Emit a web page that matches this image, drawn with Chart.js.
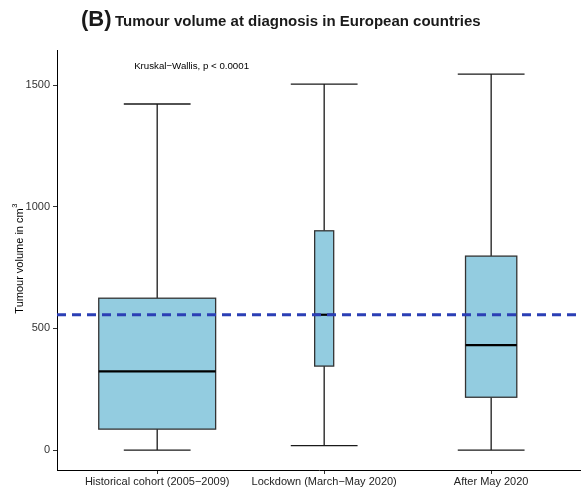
<!DOCTYPE html>
<html>
<head>
<meta charset="utf-8">
<script src="https://cdn.jsdelivr.net/npm/chart.js@4"></script>
<style>
  html, body { margin: 0; padding: 0; background: #fff; }
  #wrap { width: 581px; height: 489px; }
</style>
</head>
<body>
<div id="wrap"><canvas id="myChart" width="581" height="489"></canvas></div>
<script>
// datos
const categorias = ["Historical cohort (2005\u22122009)", "Lockdown (March\u2212May 2020)", "After May 2020"];
const minimos = [0, 18, 0];
const q1 = [86, 345, 217];
const medianas = [323, 556, 431];
const q3 = [624, 901, 797];
const maximos = [1422, 1504, 1545];
const lineaRef = 556; // linea discontinua
const yTicks = [0, 500, 1000, 1500];
const anchoCaja = [0.70, 0.114, 0.307]; // ancho variable (varwidth)
const anchoBigote = 0.4;

const FONT = "'Liberation Sans', Arial, sans-serif";

// plugin para dibujar las cajas usando las escalas
const boxPlugin = {
  id: "boxes",
  afterDatasetsDraw(chart) {
    const ctx = chart.ctx;
    const x = chart.scales.x;
    const y = chart.scales.y;
    ctx.save();
    categorias.forEach((c, i) => {
      const pos = i + 1;
      const xc = x.getPixelForValue(pos);
      const xl = x.getPixelForValue(pos - anchoCaja[i] / 2);
      const xr = x.getPixelForValue(pos + anchoCaja[i] / 2);
      const cl = x.getPixelForValue(pos - anchoBigote / 2);
      const cr = x.getPixelForValue(pos + anchoBigote / 2);
      const yMin = y.getPixelForValue(minimos[i]);
      const yQ1 = y.getPixelForValue(q1[i]);
      const yMed = y.getPixelForValue(medianas[i]);
      const yQ3 = y.getPixelForValue(q3[i]);
      const yMax = y.getPixelForValue(maximos[i]);

      ctx.strokeStyle = "#1a1a1a";
      ctx.lineWidth = 1.3;
      // bigotes
      ctx.beginPath();
      ctx.moveTo(xc, yQ3); ctx.lineTo(xc, yMax);
      ctx.moveTo(cl, yMax); ctx.lineTo(cr, yMax);
      ctx.moveTo(xc, yQ1); ctx.lineTo(xc, yMin);
      ctx.moveTo(cl, yMin); ctx.lineTo(cr, yMin);
      ctx.stroke();
      // caja
      ctx.fillStyle = "#93cce0";
      ctx.fillRect(xl, yQ3, xr - xl, yQ1 - yQ3);
      ctx.strokeStyle = "#333333";
      ctx.strokeRect(xl, yQ3, xr - xl, yQ1 - yQ3);
      // mediana
      ctx.strokeStyle = "#000";
      ctx.lineWidth = 2.2;
      ctx.beginPath();
      ctx.moveTo(xl, yMed); ctx.lineTo(xr, yMed);
      ctx.stroke();
    });

    // linea de referencia
    ctx.strokeStyle = "#2b3fb5";
    ctx.lineWidth = 3;
    ctx.setLineDash([9, 6]);
    ctx.beginPath();
    const yr = y.getPixelForValue(lineaRef);
    ctx.moveTo(x.left, yr);
    ctx.lineTo(chart.width, yr);
    ctx.stroke();
    ctx.setLineDash([]);

    // texto del test
    ctx.fillStyle = "#000";
    ctx.font = "9.7px " + FONT;
    ctx.textAlign = "left";
    ctx.textBaseline = "middle";
    ctx.fillText("Kruskal\u2212Wallis, p < 0.0001", x.getPixelForValue(0.862), y.getPixelForValue(1575));
    ctx.restore();
  },
  afterDraw(chart) {
    const ctx = chart.ctx;
    ctx.save();
    // titulo
    ctx.fillStyle = "#1a1a1a";
    ctx.textBaseline = "alphabetic";
    ctx.textAlign = "left";
    ctx.font = "bold 22px " + FONT;
    ctx.fillText("(B)", 81, 26);
    ctx.font = "bold 15px " + FONT;
    ctx.fillText("Tumour volume at diagnosis in European countries", 115, 26);

    // titulo eje y
    ctx.translate(20, 258);
    ctx.rotate(-Math.PI / 2);
    ctx.textAlign = "center";
    ctx.textBaseline = "middle";
    ctx.fillStyle = "#000";
    ctx.font = "11px " + FONT;
    const t = "Tumour volume in cm";
    const w = ctx.measureText(t).width;
    ctx.fillText(t, -3, 0);
    ctx.font = "7.5px " + FONT;
    ctx.textAlign = "left";
    ctx.fillText("3", -3 + w / 2 + 0.5, -5);
    ctx.restore();
  }
};

const ctx = document.getElementById("myChart").getContext("2d");

const chartInstance = new Chart(ctx, {
  type: "scatter",
  data: { datasets: [{ data: [], showLine: false }] },
  options: {
    responsive: false,
    animation: false,
    layout: { padding: { top: 50, left: 0, right: 0, bottom: 0 } },
    plugins: { legend: { display: false }, tooltip: { enabled: false } },
    scales: {
      x: {
        type: "linear",
        min: 0.4,
        max: 3.538,
        afterBuildTicks: (s) => { s.ticks = [1, 2, 3].map((v) => ({ value: v })); },
        afterFit: (s) => { s.height = 19; },
        grid: { drawOnChartArea: false, tickLength: 4, color: "#333", lineWidth: 1 },
        border: { display: true, color: "#000", width: 1 },
        ticks: {
          padding: 1,
          color: "#222",
          font: { family: FONT, size: 11 },
          maxRotation: 0,
          autoSkip: false,
          callback: (v) => categorias[v - 1]
        }
      },
      y: {
        type: "linear",
        min: -82,
        max: 1644,
        afterBuildTicks: (s) => { s.ticks = yTicks.map((v) => ({ value: v })); },
        afterFit: (s) => { s.width = 57; },
        grid: { drawOnChartArea: false, tickLength: 4, color: "#333", lineWidth: 1 },
        border: { display: true, color: "#000", width: 1 },
        ticks: {
          padding: 3,
          color: "#333",
          font: { family: FONT, size: 11 },
          callback: (v) => String(v)
        }
      }
    }
  },
  plugins: [boxPlugin]
});
</script>
</body>
</html>
